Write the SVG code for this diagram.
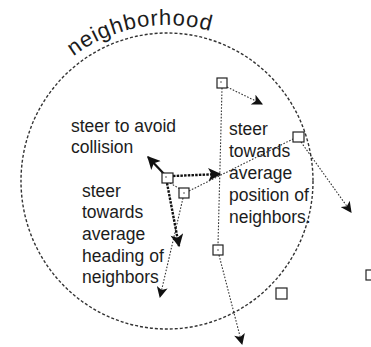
<svg xmlns="http://www.w3.org/2000/svg" width="371" height="347" viewBox="0 0 371 347">
  <style>
    .lbl { font-family: "Liberation Sans", Arial, Helvetica, sans-serif; font-size: 17.5px; fill: #1c1c1c; }
    .title { font-family: "Liberation Sans", Arial, Helvetica, sans-serif; font-size: 22px; fill: #1c1c1c; }
    .boid { fill: #ffffff; stroke: #222; stroke-width: 1.2; }
    .dot { fill: #444; }
    .thin { fill: none; stroke: #333; stroke-width: 1.1; stroke-dasharray: 1.6 1.6; }
    .thick { fill: none; stroke: #111; stroke-width: 2.2; }
    .thickdot { fill: none; stroke: #111; stroke-width: 2.4; stroke-dasharray: 2.5 1.2; }
    .hood { fill: none; stroke: #333; stroke-width: 1.4; stroke-dasharray: 3 2; }
  </style>
  <defs>
    <marker id="ah" viewBox="0 0 10 10" refX="9" refY="5" markerWidth="12" markerHeight="11" markerUnits="userSpaceOnUse" orient="auto">
      <path d="M0,0 L10,5 L0,10 L2.5,5 z" fill="#111"/>
    </marker>
    <marker id="ahb" viewBox="0 0 10 10" refX="9" refY="5" markerWidth="14" markerHeight="13" markerUnits="userSpaceOnUse" orient="auto">
      <path d="M0,0 L10,5 L0,10 L2.5,5 z" fill="#111"/>
    </marker>
    <path id="arcPath" d="M 56.7,70.7 A 156,156 0 0 1 245,45.9"/>
  </defs>

  <rect width="371" height="347" fill="#ffffff"/>

  <g id="neighborhood">
    <ellipse class="hood" cx="167" cy="181" rx="146" ry="148"/>
    <text class="title"><textPath href="#arcPath" startOffset="22" textLength="144" lengthAdjust="spacing">neighborhood</textPath></text>
  </g>

  <g id="connectors">
    <line class="thin" x1="227" y1="87" x2="262" y2="104" marker-end="url(#ah)"/>
    <line class="thin" x1="222" y1="88" x2="218" y2="245"/>
    <line class="thin" x1="219" y1="255" x2="242" y2="344" marker-end="url(#ah)"/>
    <line class="thin" x1="301" y1="142" x2="351" y2="212" marker-end="url(#ah)"/>
    <line class="thin" x1="189" y1="191" x2="293" y2="139"/>
    <line class="thin" x1="183" y1="198" x2="160" y2="297" marker-end="url(#ah)"/>
    <line class="thin" x1="170" y1="183" x2="180" y2="189"/>
    <line class="thick" x1="164" y1="174" x2="148" y2="157" marker-end="url(#ahb)"/>
    <line class="thickdot" x1="173" y1="176" x2="220" y2="174" marker-end="url(#ahb)"/>
    <line class="thickdot" x1="167" y1="183" x2="179" y2="246" marker-end="url(#ahb)"/>
  </g>

  <g id="boid-top">
    <rect class="boid" x="217" y="78" width="10" height="10"/>
    <circle class="dot" cx="221" cy="82" r="0.8"/>
  </g>
  <g id="boid-main">
    <rect class="boid" x="162" y="173" width="11" height="10"/>
    <circle class="dot" cx="166" cy="177" r="0.8"/>
  </g>
  <g id="boid-second">
    <rect class="boid" x="179" y="188" width="10" height="10"/>
    <circle class="dot" cx="184" cy="193" r="0.8"/>
  </g>
  <g id="boid-right">
    <rect class="boid" x="293" y="132" width="11" height="10"/>
  </g>
  <g id="boid-middle">
    <rect class="boid" x="213" y="245" width="10" height="10"/>
    <circle class="dot" cx="218" cy="250" r="0.8"/>
  </g>
  <g id="boid-bottom-right">
    <rect class="boid" x="276" y="288" width="11" height="11"/>
  </g>
  <g id="boid-outside">
    <rect class="boid" x="366" y="270" width="10" height="10"/>
  </g>

  <g id="label-avoid">
    <text class="lbl" x="71" y="132">steer to avoid</text>
    <text class="lbl" x="71" y="153">collision</text>
  </g>
  <g id="label-position">
    <text class="lbl" x="229" y="135">steer</text>
    <text class="lbl" x="229" y="157">towards</text>
    <text class="lbl" x="229" y="179">average</text>
    <text class="lbl" x="229" y="201">position of</text>
    <text class="lbl" x="229" y="223">neighbors.</text>
  </g>
  <g id="label-heading">
    <text class="lbl" x="82" y="197">steer</text>
    <text class="lbl" x="82" y="218">towards</text>
    <text class="lbl" x="82" y="240">average</text>
    <text class="lbl" x="82" y="262">heading of</text>
    <text class="lbl" x="82" y="283">neighbors</text>
  </g>
</svg>
